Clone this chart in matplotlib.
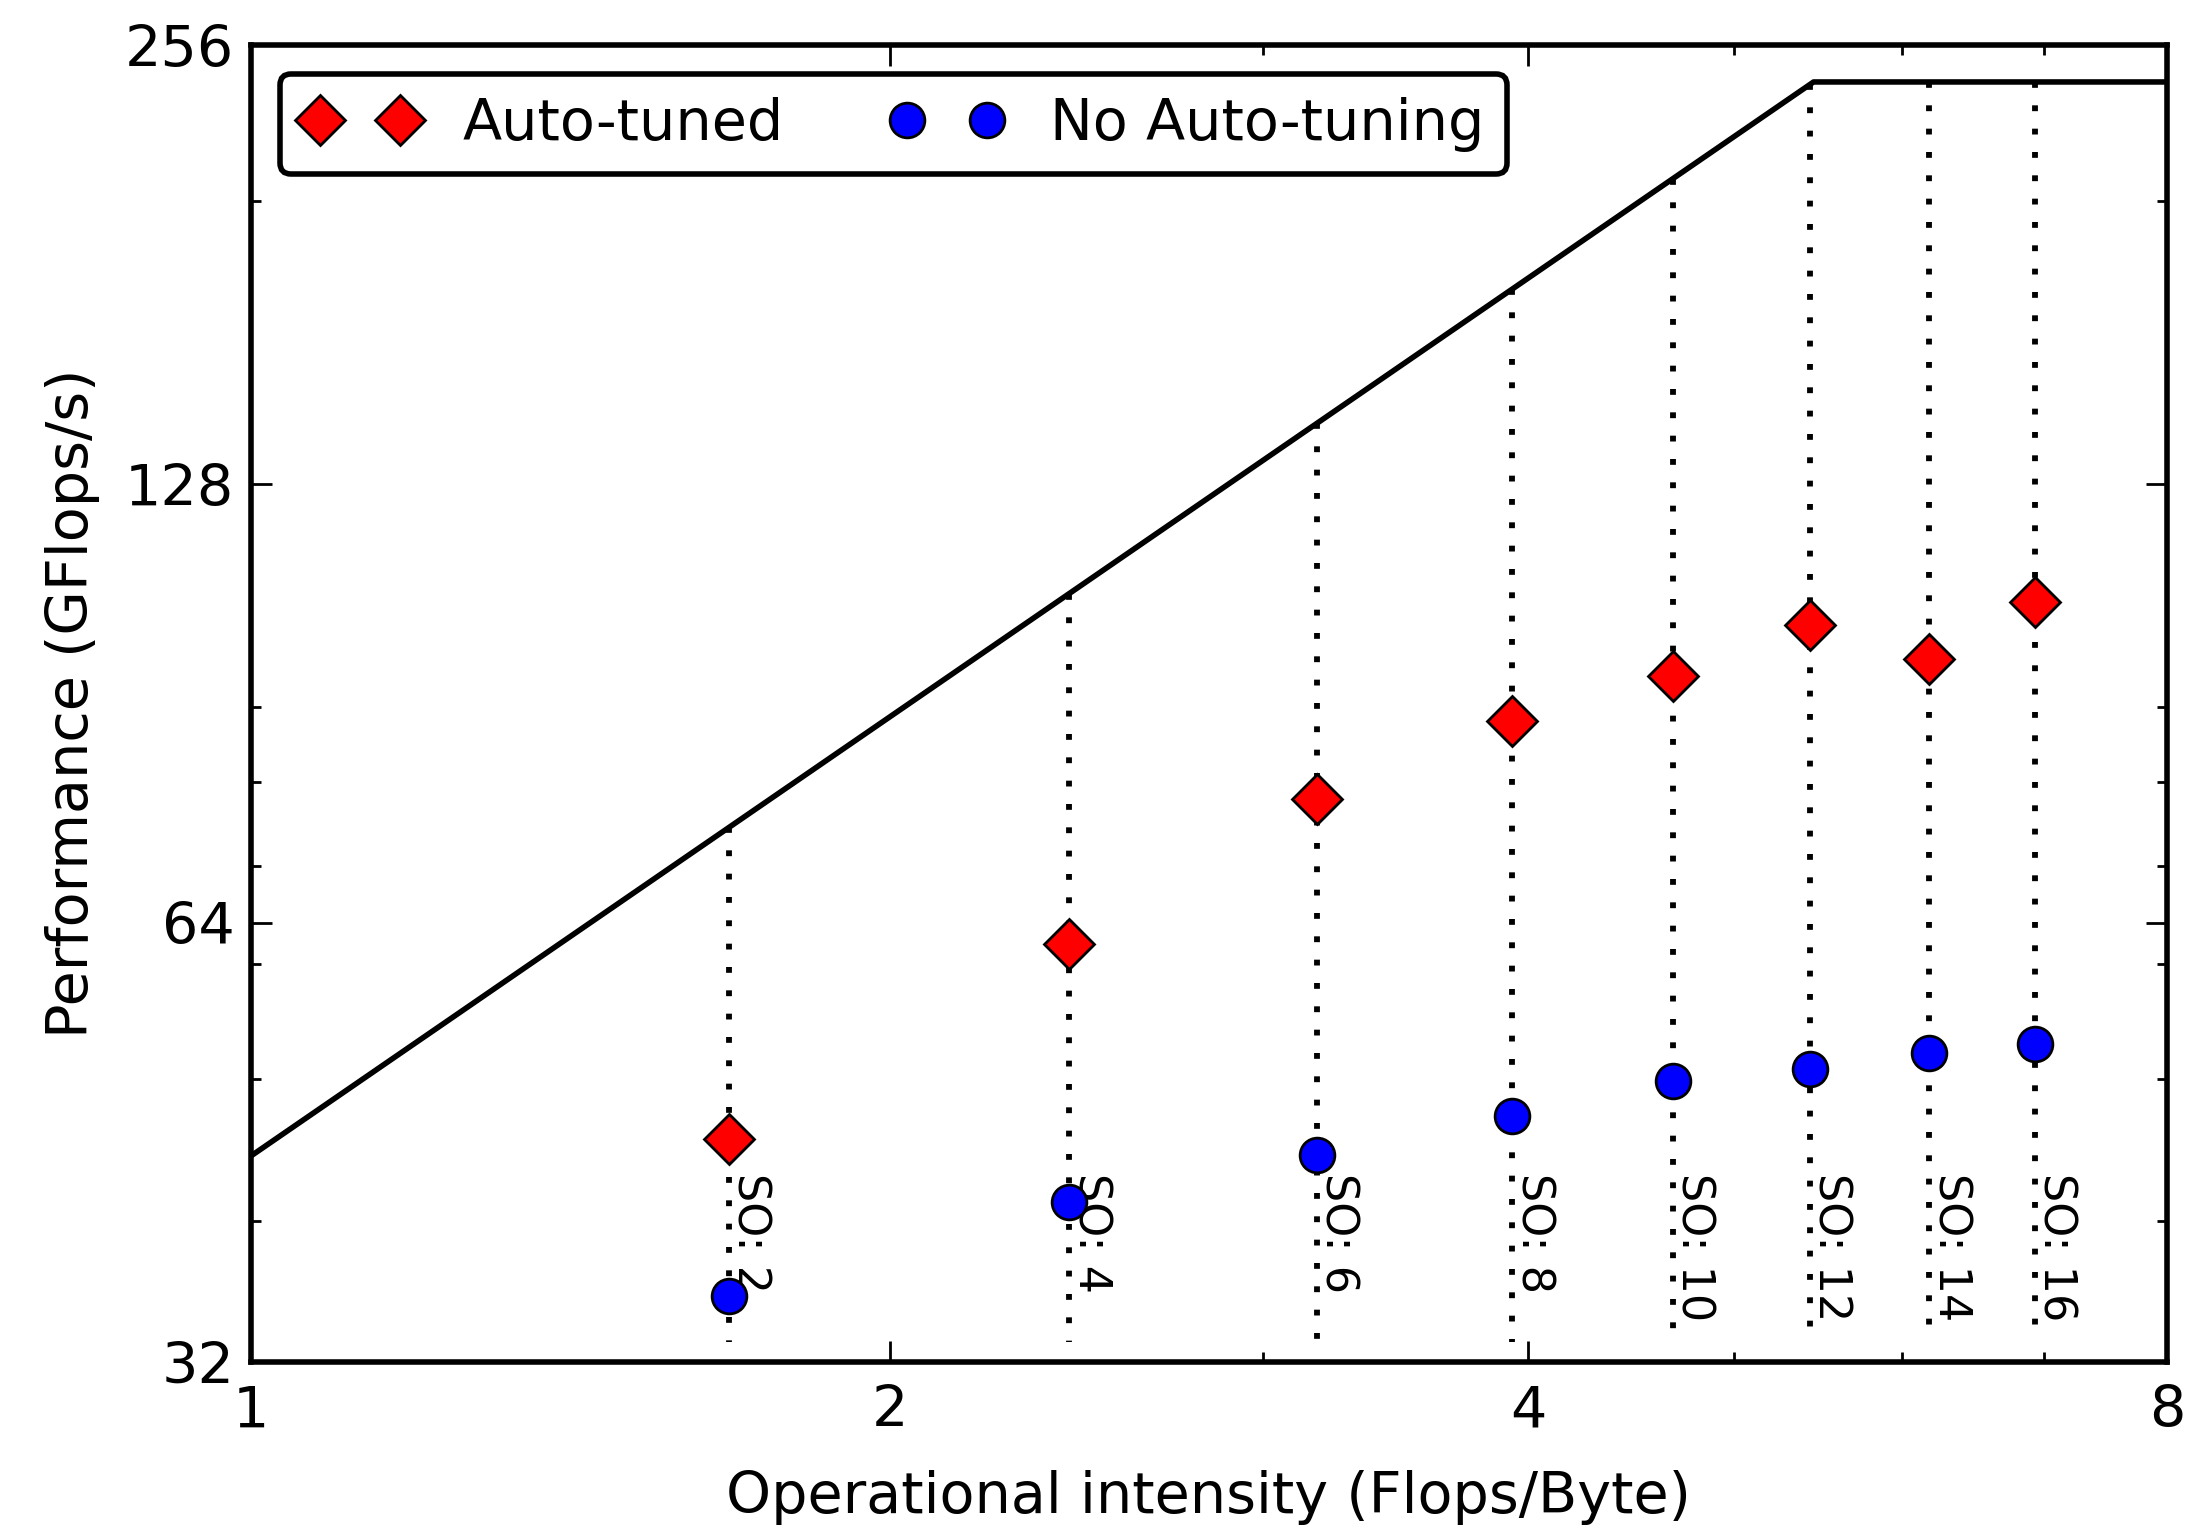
import numpy as np
import matplotlib
matplotlib.use("Agg")
import matplotlib.pyplot as plt

# roofline parameters
peak = 241.5      # GFlops/s
bandwidth = 44.3  # GB/s

# space orders and their operational intensity
space_order = [2, 4, 6, 8, 10, 12, 14, 16]
intensity = np.array([1.68, 2.43, 3.18, 3.93, 4.68, 5.43, 6.18, 6.93])
auto_tuned = [45.5, 61.9, 77.9, 88.0, 94.6, 102.5, 97.1, 106.3]
no_tuning = [35.5, 41.2, 44.4, 47.2, 49.9, 50.8, 52.1, 52.9]

x_major = [1, 2, 4, 8]
x_minor = [3, 5, 6, 7]
y_major = [32, 64, 128, 256]
y_minor = [40, 50, 60, 70, 80, 90, 200]

plt.rcParams['font.family'] = 'DejaVu Sans'
plt.rcParams['font.size'] = 20.6

fig = plt.figure(figsize=(10.93, 7.66), dpi=200)
ax = fig.add_axes([0.1148, 0.111, 0.8765, 0.8596])

ax.set_xscale('log', base=2)
ax.set_yscale('log', base=2)

ridge = peak / bandwidth
roof_x = np.array([1, ridge, 8])
roof_y = np.minimum(bandwidth * roof_x, peak)
ax.plot(roof_x, roof_y, color='k', lw=2, zorder=3)

roof_at = np.minimum(bandwidth * intensity, peak)
for xi, top in zip(intensity, roof_at):
    ax.plot([xi, xi], [top, 33], color='k', lw=2.1, ls=(0, (1, 3)), zorder=2)

for xi, so in zip(intensity, space_order):
    ax.text(xi, 43.1, 'SO: %d' % so, rotation=270, ha='left', va='top',
            fontsize=16, zorder=4)

ax.plot(intensity, auto_tuned, 'D', color='red', mec='k', mew=1, ms=12.5,
        ls='none', label='Auto-tuned', zorder=5)
ax.plot(intensity, no_tuning, 'o', color='blue', mec='k', mew=1, ms=12.5,
        ls='none', label='No Auto-tuning', zorder=5)

ax.set_xlim(1, 8)
ax.set_ylim(32, 256)
ax.set_xticks(x_major)
ax.set_xticklabels([str(v) for v in x_major])
ax.set_xticks(x_minor, minor=True)
ax.set_xticklabels([], minor=True)
ax.set_yticks(y_major)
ax.set_yticklabels([str(v) for v in y_major])
ax.set_yticks(y_minor, minor=True)
ax.set_yticklabels([], minor=True)

ax.tick_params(which='both', direction='in', top=True, right=True, width=1)
ax.tick_params(which='major', length=7.5)
ax.tick_params(which='minor', length=3.5)
ax.tick_params(axis='x', pad=8)
ax.tick_params(axis='y', pad=6)
for sp in ax.spines.values():
    sp.set_linewidth(2)

ax.set_xlabel('Operational intensity (Flops/Byte)', labelpad=11)
ax.set_ylabel('Performance (GFlops/s)', labelpad=9)

leg = ax.legend(loc='upper left', ncol=2, numpoints=2, fancybox=True,
                framealpha=1, edgecolor='k', columnspacing=1.85)
leg.get_frame().set_linewidth(2)

fig.savefig('out.png', dpi=200)
